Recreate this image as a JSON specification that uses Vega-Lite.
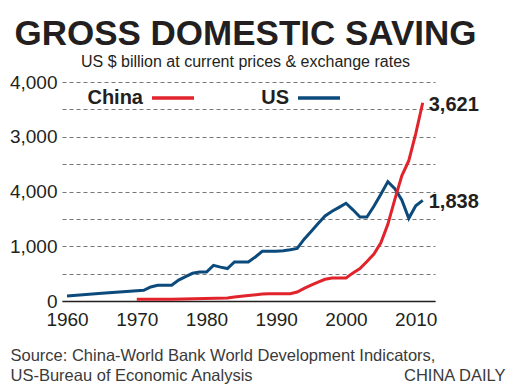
{
  "$schema": "https://vega.github.io/schema/vega-lite/v6.json",
  "width": 373,
  "height": 219,
  "autosize": {"type": "none"},
  "padding": {"left": 62, "top": 82, "right": 77, "bottom": 90},
  "background": "white",
  "config": {"view": {"stroke": null}},
  "title": {
    "text": "GROSS DOMESTIC SAVING",
    "subtitle": "US $ billion at current prices & exchange rates",
    "anchor": "middle",
    "frame": "group",
    "font": "Liberation Sans",
    "fontSize": 35,
    "fontWeight": "bold",
    "color": "#231f20",
    "subtitleFont": "Liberation Sans",
    "subtitleFontSize": 16,
    "subtitleColor": "#231f20",
    "subtitlePadding": 2,
    "offset": 3,
    "dx": -3
  },
  "data": {
    "values": [
      {"country": "US", "year": 1960, "value": 91},
      {"country": "US", "year": 1965, "value": 140},
      {"country": "US", "year": 1971, "value": 195},
      {"country": "US", "year": 1972, "value": 256},
      {"country": "US", "year": 1973, "value": 287},
      {"country": "US", "year": 1974, "value": 287},
      {"country": "US", "year": 1975, "value": 287},
      {"country": "US", "year": 1976, "value": 382},
      {"country": "US", "year": 1977, "value": 444},
      {"country": "US", "year": 1978, "value": 506},
      {"country": "US", "year": 1979, "value": 530},
      {"country": "US", "year": 1980, "value": 530},
      {"country": "US", "year": 1981, "value": 652},
      {"country": "US", "year": 1982, "value": 619},
      {"country": "US", "year": 1983, "value": 592},
      {"country": "US", "year": 1984, "value": 713},
      {"country": "US", "year": 1985, "value": 713},
      {"country": "US", "year": 1986, "value": 713},
      {"country": "US", "year": 1987, "value": 804},
      {"country": "US", "year": 1988, "value": 908},
      {"country": "US", "year": 1989, "value": 908},
      {"country": "US", "year": 1990, "value": 908},
      {"country": "US", "year": 1991, "value": 917},
      {"country": "US", "year": 1992, "value": 935},
      {"country": "US", "year": 1993, "value": 960},
      {"country": "US", "year": 1994, "value": 1129},
      {"country": "US", "year": 1995, "value": 1271},
      {"country": "US", "year": 1996, "value": 1414},
      {"country": "US", "year": 1997, "value": 1554},
      {"country": "US", "year": 1998, "value": 1640},
      {"country": "US", "year": 1999, "value": 1711},
      {"country": "US", "year": 2000, "value": 1785},
      {"country": "US", "year": 2001, "value": 1666},
      {"country": "US", "year": 2002, "value": 1535},
      {"country": "US", "year": 2003, "value": 1535},
      {"country": "US", "year": 2004, "value": 1730},
      {"country": "US", "year": 2005, "value": 1950},
      {"country": "US", "year": 2006, "value": 2180},
      {"country": "US", "year": 2007, "value": 2052},
      {"country": "US", "year": 2008, "value": 1846},
      {"country": "US", "year": 2009, "value": 1510},
      {"country": "US", "year": 2010, "value": 1739},
      {"country": "US", "year": 2011, "value": 1838},
      {"country": "China", "year": 1970, "value": 30},
      {"country": "China", "year": 1975, "value": 32},
      {"country": "China", "year": 1983, "value": 55},
      {"country": "China", "year": 1984, "value": 71},
      {"country": "China", "year": 1986, "value": 100},
      {"country": "China", "year": 1988, "value": 128},
      {"country": "China", "year": 1989, "value": 134},
      {"country": "China", "year": 1992, "value": 134},
      {"country": "China", "year": 1993, "value": 165},
      {"country": "China", "year": 1994, "value": 230},
      {"country": "China", "year": 1995, "value": 290},
      {"country": "China", "year": 1996, "value": 343},
      {"country": "China", "year": 1997, "value": 396},
      {"country": "China", "year": 1998, "value": 420},
      {"country": "China", "year": 1999, "value": 420},
      {"country": "China", "year": 2000, "value": 420},
      {"country": "China", "year": 2001, "value": 513},
      {"country": "China", "year": 2002, "value": 592},
      {"country": "China", "year": 2003, "value": 721},
      {"country": "China", "year": 2004, "value": 858},
      {"country": "China", "year": 2005, "value": 1063},
      {"country": "China", "year": 2006, "value": 1400},
      {"country": "China", "year": 2007, "value": 1857},
      {"country": "China", "year": 2008, "value": 2287},
      {"country": "China", "year": 2009, "value": 2562},
      {"country": "China", "year": 2010, "value": 3058},
      {"country": "China", "year": 2011, "value": 3621}
    ]
  },
  "encoding": {
    "x": {
      "field": "year",
      "type": "quantitative",
      "scale": {"domain": [1959.28, 2012.76], "nice": false, "zero": false},
      "axis": {
        "values": [1960, 1970, 1980, 1990, 2000, 2010],
        "format": "d",
        "labelFont": "Liberation Sans",
        "labelFontSize": 19,
        "labelColor": "#231f20",
        "labelPadding": 9,
        "labelFlush": false,
        "ticks": false,
        "grid": false,
        "domain": true,
        "domainColor": "#231f20",
        "domainWidth": 1.5,
        "title": ["Source: China-World Bank World Development Indicators,", "US-Bureau of Economic Analysis"],
        "titleX": -52,
        "titleY": 59,
        "titleAlign": "left",
        "titleAnchor": "start",
        "titleBaseline": "alphabetic",
        "titleFont": "Liberation Sans",
        "titleFontSize": 16.5,
        "titleFontWeight": "normal",
        "titleColor": "#3a3a3a",
        "titleLineHeight": 20
      }
    },
    "y": {
      "field": "value",
      "type": "quantitative",
      "scale": {"domain": [0, 4000], "nice": false}
    }
  },
  "layer": [
    {
      "mark": {"type": "line", "strokeWidth": 3, "strokeJoin": "miter"},
      "encoding": {
        "y": {
          "field": "value",
          "type": "quantitative",
          "axis": {
            "values": [0, 500, 1000, 1500, 2000, 2500, 3000, 3500, 4000],
            "labelExpr": "datum.value % 1000 != 0 ? '' : (datum.value == 2000 ? '4,000' : format(datum.value, ','))",
            "labelFont": "Liberation Sans",
            "labelFontSize": 19,
            "labelColor": "#231f20",
            "labelPadding": 5,
            "ticks": false,
            "domain": false,
            "grid": true,
            "gridColor": "#777777",
            "gridDash": [4, 3],
            "gridWidth": 1,
            "title": null
          }
        },
        "color": {
          "field": "country",
          "type": "nominal",
          "scale": {"domain": ["China", "US"], "range": ["#e1232b", "#0c4a7c"]},
          "legend": {
            "orient": "none",
            "legendX": 88,
            "legendY": -7,
            "direction": "horizontal",
            "title": null,
            "symbolType": "stroke",
            "symbolSize": 1764,
            "symbolStrokeWidth": 3.5,
            "labelFont": "Liberation Sans",
            "labelFontSize": 20,
            "labelFontWeight": "bold",
            "labelColor": "#231f20",
            "labelAlign": "right",
            "labelOffset": -53,
            "columnPadding": 60,
            "padding": 0
          }
        }
      }
    },
    {
      "transform": [{"filter": "datum.year == 2011"}],
      "mark": {
        "type": "text",
        "align": "left",
        "baseline": "middle",
        "dx": 6,
        "dy": 2,
        "font": "Liberation Sans",
        "fontSize": 20,
        "fontWeight": "bold",
        "color": "#231f20"
      },
      "encoding": {
        "y": {
          "field": "value",
          "type": "quantitative",
          "axis": {
            "orient": "right",
            "labels": false,
            "ticks": false,
            "domain": false,
            "grid": false,
            "title": "CHINA DAILY",
            "titleAngle": 0,
            "titleX": 70,
            "titleY": 298,
            "titleAlign": "right",
            "titleBaseline": "alphabetic",
            "titleFont": "Liberation Sans",
            "titleFontSize": 16.5,
            "titleFontWeight": "normal",
            "titleColor": "#3a3a3a"
          }
        },
        "text": {"field": "value", "type": "quantitative", "format": ","}
      }
    }
  ],
  "resolve": {"axis": {"y": "independent"}}
}
